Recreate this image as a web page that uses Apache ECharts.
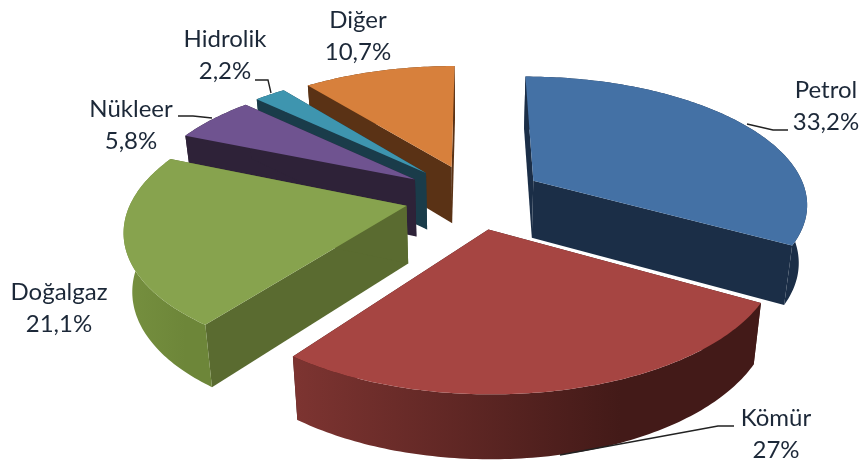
<!DOCTYPE html>
<html><head><meta charset="utf-8">
<style>html,body{margin:0;padding:0;background:#fff}#c{width:864px;height:461px}</style>
<script src="https://cdn.jsdelivr.net/npm/echarts@6/dist/echarts.min.js"></script>
</head><body><div id="c"></div>
<script>
const names = ['Petrol','Kömür','Doğalgaz','Nükleer','Hidrolik','Diğer'];
const values = [33.2,27,21.1,5.8,2.2,10.7];
const topColors = ['#4471A5','#A64542','#87A34E','#6F5390','#3E95AF','#D7803C'];
const sideColors = ['#1B2E47','#401816','#5A6B30','#2E2238','#1A3C4A','#5A3215'];
const wallLeft = ['#1B2E47','#7D3431','#76903F','#2E2238','#1A3C4A','#5A3215'];
const wallRight = ['#1B2E47','#431A18','#6D8639','#2E2238','#1A3C4A','#5A3215'];
const drawOrder = [5,4,3,0,2,1];
const sliceNudge = [[4.5,-1],[2,1],[0,0.5],[-2,-1],[-2,-2],[1,-2]];

const G = {vx:472, vy:197, explode:0.245, R:274, T:126, k:0.165, depth:57.5, shrink:0.975};
const total = values.reduce((a,b)=>a+b,0);
const starts = []; values.reduce((a,v,i)=>(starts[i]=a,a+v),0);

function project(wx, wy, nudge){
  const s=1/(1+G.k*wy);
  return {x:G.vx+G.R*wx*s+nudge[0], y:G.vy-G.T*wy*s+nudge[1], s:s};
}
function renderItem(params, api){
  const i = drawOrder[params.dataIndex];
  const v = api.value(0);
  const nudge = sliceNudge[i];
  const a0 = starts[i]/total*2*Math.PI, a1=(starts[i]+v)/total*2*Math.PI, m=(a0+a1)/2;
  const ox=G.explode*Math.sin(m), oy=G.explode*Math.cos(m);
  const n=Math.max(8,Math.round((a1-a0)*60));
  const arcP=[];
  for(let j=0;j<=n;j++){const t=a0+(a1-a0)*j/n; arcP.push(project(ox+Math.sin(t),oy+Math.cos(t),nudge));}
  const apexP=project(ox,oy,nudge);
  const up=p=>[p.x,p.y];
  const down=p=>[G.vx+(p.x-G.vx)*G.shrink, p.y+G.depth*(1+0.5*(p.s-1))];
  const cut=p=>[up(apexP),up(p),down(p),down(apexP)];
  const poly=(pts,fill)=>({type:'polygon',shape:{points:pts},style:{fill:fill,stroke:null}});
  return {type:'group',children:[
    poly(cut(arcP[0]),sideColors[i]),
    poly(cut(arcP[n]),sideColors[i]),
    poly(arcP.map(up).concat(arcP.slice().reverse().map(down)),new echarts.graphic.LinearGradient(0,0,1,0,[
      {offset:0,color:wallLeft[i]},{offset:0.7,color:wallRight[i]},{offset:1,color:wallRight[i]}])),
    poly([up(apexP)].concat(arcP.map(up)),topColors[i])
  ]};
}
const fmt=v=>String(v).replace('.',',')+'%';
const labelPos=[[826,106],[776,434],[59,308],[131,125],[225,55],[358,36]];
const leaders=[
  [[747,124],[773,130],[788,130]],
  [[560,455],[718,426],[734,426]],
  null,
  [[178,116],[193,116],[212,118]],
  [[255,80],[268,80],[271,93]],
  null];
const graphics=[];
names.forEach((nm,i)=>{
  graphics.push({type:'text',x:labelPos[i][0],y:labelPos[i][1],z:10,silent:true,
    style:{text:nm+'\n'+fmt(values[i]),fill:'#1C2838',font:'24px Lato',align:'center',verticalAlign:'middle',lineHeight:32}});
  if(leaders[i]) graphics.push({type:'polyline',z:10,silent:true,shape:{points:leaders[i]},style:{stroke:'#222',lineWidth:1.4,fill:null}});
});
const chart=echarts.init(document.getElementById('c'),null,{renderer:'canvas'});
chart.setOption({
  animation:false,
  backgroundColor:'#fff',
  series:[{type:'custom',coordinateSystem:'none',renderItem:renderItem,silent:true,
    data:drawOrder.map(i=>[values[i]])}],
  graphic:{elements:graphics}
});
</script></body></html>
